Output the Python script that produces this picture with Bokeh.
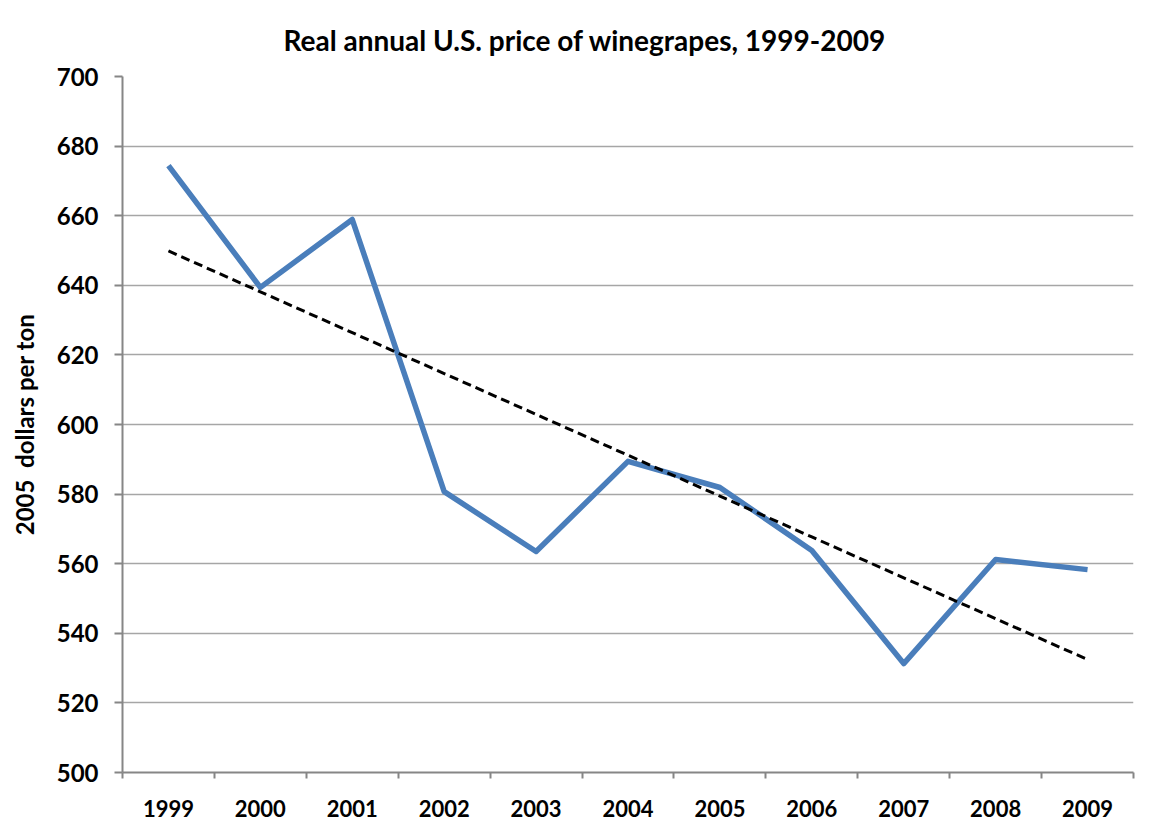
import numpy as np
from bokeh.plotting import figure
from bokeh.models import FixedTicker, Range1d
from bokeh.embed import file_html
from bokeh.resources import INLINE

years = ["1999", "2000", "2001", "2002", "2003", "2004", "2005", "2006", "2007", "2008", "2009"]
prices = [674.4, 639.4, 658.9, 580.7, 563.5, 589.4, 581.9, 563.8, 531.3, 561.2, 558.3]
y_ticks = [500, 520, 540, 560, 580, 600, 620, 640, 660, 680, 700]

FONT = "Lato"

xi = np.arange(len(years))
slope, intercept = np.polyfit(xi, prices, 1)
trend = slope * xi + intercept

p = figure(width=1141, height=830, output_backend="svg", toolbar_location=None,
           x_range=Range1d(-0.5, len(years) - 0.5), y_range=Range1d(500, 700),
           title="Real annual U.S. price of winegrapes, 1999-2009")
p.min_border_left = 122
p.min_border_right = 8
p.min_border_top = 76
p.min_border_bottom = 58
p.outline_line_color = None
p.background_fill_color = "white"
p.border_fill_color = "white"

p.title.align = "left"
p.title.text_font = FONT
p.title.text_font_size = "28px"
p.title.text_font_style = "bold"
p.title.text_color = "black"
p.title.standoff = 40
p.title.offset = 161

p.line(xi, prices, line_color="#4a7ebb", line_width=5.5, line_join="round")
p.line(xi, trend, line_color="black", line_width=3, line_dash="9 5")

# x axis
p.xaxis.ticker = FixedTicker(ticks=list(xi), minor_ticks=[i - 0.5 for i in range(len(years) + 1)])
p.xaxis.major_label_overrides = {int(i): y for i, y in zip(xi, years)}
p.xaxis.major_tick_line_color = None
p.xaxis.major_tick_out = 0
p.xaxis.major_tick_in = 0
p.xaxis.minor_tick_line_color = "#868686"
p.xaxis.minor_tick_line_width = 2
p.xaxis.minor_tick_out = 6
p.xaxis.minor_tick_in = 0
p.xaxis.axis_line_color = "#868686"
p.xaxis.axis_line_width = 2
p.xaxis.major_label_text_font = FONT
p.xaxis.major_label_text_font_size = "22px"
p.xaxis.major_label_text_font_style = "bold"
p.xaxis.major_label_text_color = "black"
p.xaxis.major_label_standoff = 21

# y axis
p.yaxis.ticker = FixedTicker(ticks=y_ticks)
p.yaxis.axis_line_color = "#868686"
p.yaxis.axis_line_width = 2
p.yaxis.major_tick_line_color = "#868686"
p.yaxis.major_tick_line_width = 2
p.yaxis.major_tick_out = 8
p.yaxis.major_tick_in = 0
p.yaxis.minor_tick_line_color = None
p.yaxis.major_label_text_font = FONT
p.yaxis.major_label_text_font_size = "24px"
p.yaxis.major_label_text_font_style = "bold"
p.yaxis.major_label_text_color = "black"
p.yaxis.major_label_standoff = 16
p.yaxis.axis_label = "2005\u00a0 dollars per ton"
p.yaxis.axis_label_text_font = FONT
p.yaxis.axis_label_text_font_size = "24px"
p.yaxis.axis_label_text_font_style = "bold"
p.yaxis.axis_label_text_color = "black"
p.yaxis.axis_label_standoff = 15

p.xgrid.grid_line_color = None
p.ygrid.grid_line_color = "#a6a6a6"
p.ygrid.grid_line_width = 1.5

open("out.html", "w").write(file_html(p, INLINE))
